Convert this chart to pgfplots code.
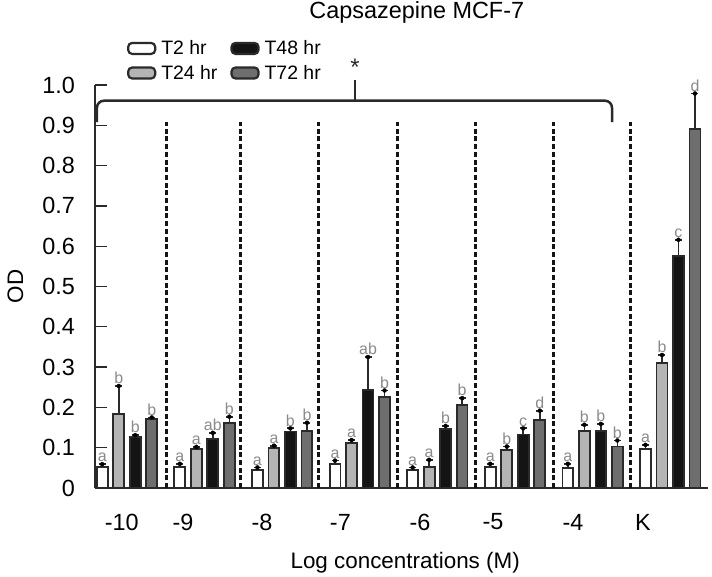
\documentclass[border=0pt]{standalone}
\usepackage{pgfplots}
\pgfplotsset{compat=1.18}
\usepackage{pgfplotstable}
\usepackage{fontspec}
\setmainfont{Liberation Sans}
\definecolor{lg}{HTML}{B4B4B4}
\definecolor{dg}{HTML}{6E6E6E}
\definecolor{bk}{HTML}{141414}
\definecolor{ol}{HTML}{2A2A2A}
\definecolor{lt}{HTML}{8A8A8A}

% g = group index (-10 ... -4, K), y = mean OD, e = upper error, l = letter
\pgfplotstableread{
g y e l
0 0.053 0.006 a
1 0.053 0.007 a
2 0.045 0.006 a
3 0.060 0.008 a
4 0.045 0.006 a
5 0.053 0.007 a
6 0.049 0.011 a
7 0.096 0.011 a
}\tA
\pgfplotstableread{
g y e l
0 0.184 0.069 b
1 0.096 0.006 a
2 0.099 0.006 a
3 0.111 0.008 a
4 0.053 0.017 a
5 0.094 0.009 b
6 0.142 0.015 b
7 0.311 0.019 b
}\tB
\pgfplotstableread{
g y e l
0 0.127 0.004 b
1 0.121 0.016 ab
2 0.140 0.008 b
3 0.243 0.082 ab
4 0.146 0.008 b
5 0.133 0.015 c
6 0.142 0.017 b
7 0.575 0.041 c
}\tC
\pgfplotstableread{
g y e l
0 0.171 0.004 b
1 0.162 0.015 b
2 0.142 0.020 b
3 0.225 0.017 b
4 0.206 0.017 b
5 0.169 0.023 d
6 0.103 0.015 b
7 0.891 0.088 d
}\tD

\pgfplotsset{
  barsty/.style={ybar, bar width=0.14, bar shift=0pt, draw=ol, line width=1.8bp,
    legend image code/.code={\draw[##1, rounded corners=4bp, line width=2.2bp] (0bp,-5.5bp) rectangle (27bp,5.5bp);},
    error bars/y dir=plus, error bars/y explicit,
    error bars/error bar style={line width=1.6bp, draw=ol},
    error bars/error mark options={rotate=90, mark size=3.5bp, line width=1.8bp, draw=ol}},
  letsty/.style={forget plot, only marks, mark=*, mark options={draw=none, fill=none},
    nodes near coords, point meta=explicit symbolic,
    nodes near coords style={anchor=south, font=\fontsize{16}{16}\selectfont, text=lt, inner sep=1bp, yshift=1bp}},
}

\begin{document}
\begin{tikzpicture}
\useasboundingbox (-95bp,-89bp) rectangle (617bp,488bp);
\begin{axis}[
  at={(0,0)}, anchor=south west,
  scale only axis, width=613bp, height=403bp,
  xmin=-0.412, xmax=7.487, ymin=0, ymax=1,
  clip=false,
  axis lines*=left,
  axis line style={line width=1.6bp, ol},
  tick align=inside, major tick length=12bp,
  ytick={0,0.1,0.2,0.3,0.4,0.5,0.6,0.7,0.8,0.9,1.0},
  yticklabels={0,0.1,0.2,0.3,0.4,0.5,0.6,0.7,0.8,0.9,1.0},
  y tick style={line width=1.3bp, ol},
  xtick={-0.068,0.722,1.74,2.75,3.776,4.717,5.747,6.649},
  xticklabels={-10,-9,-8,-7,-6,-5,-4,K},
  x tick style={draw=none},
  tick label style={font=\fontsize{23.5}{27}\selectfont, inner sep=0pt},
  yticklabel style={anchor=east, xshift=-20bp},
  xticklabel style={anchor=center, yshift=-34bp},
  xlabel={Log concentrations (M)},
  xlabel style={at={(axis description cs:0.506,-0.186)}, anchor=center, font=\fontsize{22.5}{26}\selectfont},
  ylabel={OD},
  ylabel style={at={(axis description cs:-0.13,0.5)}, anchor=center, font=\fontsize{22.5}{26}\selectfont},
  title={Capsazepine MCF-7},
  every axis title shift=0pt,
  title style={at={(axis description cs:0.525,1.1638)}, anchor=base, yshift=0pt, inner sep=0pt, font=\fontsize{23.5}{27}\selectfont},
  legend style={at={(axis description cs:0.052,1.113)}, anchor=north west, draw=none, fill=none,
    font=\fontsize{19.5}{22}\selectfont, inner sep=0pt, row sep=7bp,
    nodes={inner sep=1pt},
    /tikz/every odd column/.append style={column sep=4bp},
    /tikz/every even column/.append style={column sep=12bp}},
  legend columns=2, transpose legend,
  legend cell align=left,
]
\pgfplotsinvokeforeach{0.515,1.469,2.474,3.492,4.485,5.490,6.482}{
  \draw[line width=3bp, bk, dash pattern=on 5bp off 2.7bp] (axis cs:#1,0) -- (axis cs:#1,0.908);
}
\addplot[barsty, fill=white] table[x expr=\thisrow{g}-0.319, y=y, y error=e]{\tA};
\addlegendentry{T2 hr}
\addplot[barsty, fill=lg] table[x expr=\thisrow{g}-0.106, y=y, y error=e]{\tB};
\addlegendentry{T24 hr}
\addplot[barsty, fill=bk] table[x expr=\thisrow{g}+0.106, y=y, y error=e]{\tC};
\addlegendentry{T48 hr}
\addplot[barsty, fill=dg] table[x expr=\thisrow{g}+0.319, y=y, y error=e]{\tD};
\addlegendentry{T72 hr}

\addplot[letsty] table[x expr=\thisrow{g}-0.319, y expr=\thisrow{y}+\thisrow{e}, meta=l]{\tA};
\addplot[letsty] table[x expr=\thisrow{g}-0.106, y expr=\thisrow{y}+\thisrow{e}, meta=l]{\tB};
\addplot[letsty] table[x expr=\thisrow{g}+0.106, y expr=\thisrow{y}+\thisrow{e}, meta=l]{\tC};
\addplot[letsty] table[x expr=\thisrow{g}+0.319, y expr=\thisrow{y}+\thisrow{e}, meta=l]{\tD};

\draw[line width=2.5bp, ol, rounded corners=7bp] (axis cs:-0.387,0.908) -- (axis cs:-0.387,0.961) -- (axis cs:6.25,0.961) -- (axis cs:6.25,0.908);
\draw[line width=2.5bp, ol] (axis cs:2.94,0.961) -- (axis cs:2.94,1.012);
\node[font=\fontsize{24}{24}\selectfont, text=ol] at (axis cs:2.94,1.045) {*};
\end{axis}
\end{tikzpicture}
\end{document}
